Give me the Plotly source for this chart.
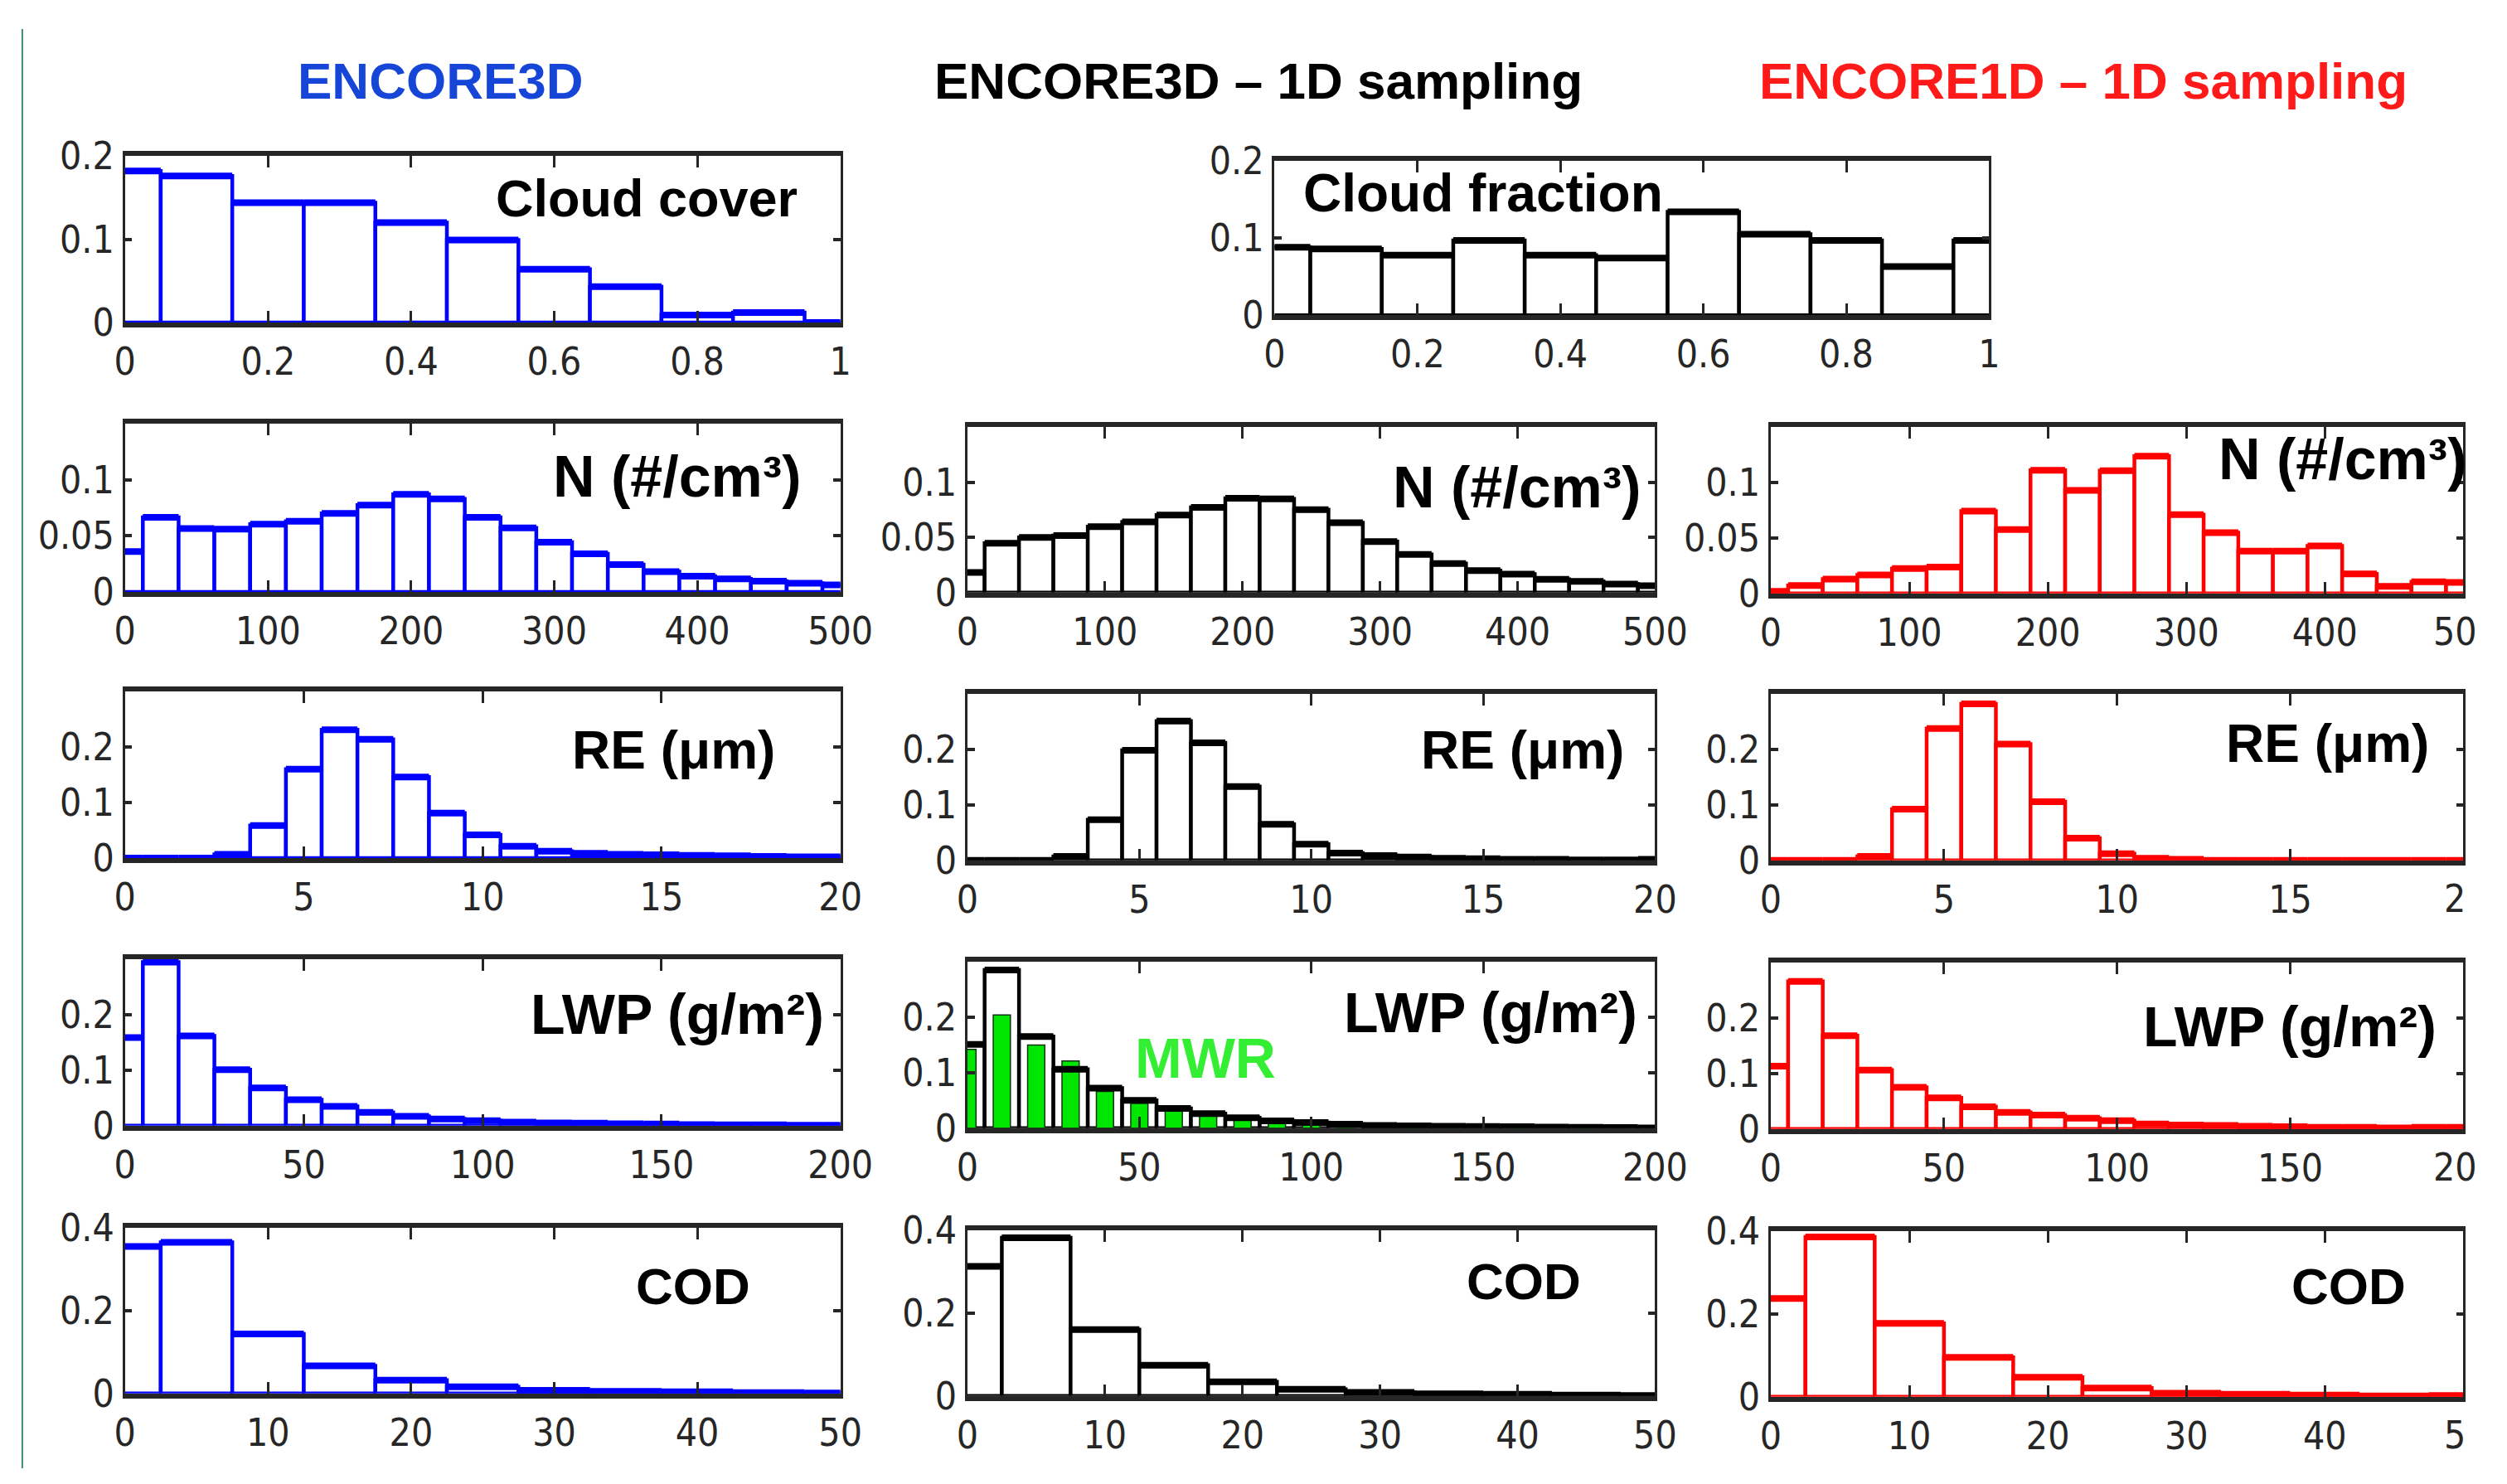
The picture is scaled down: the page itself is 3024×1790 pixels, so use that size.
import plotly.graph_objects as go

W, H = 3024, 1790
OFF = 8  # page body margin compensation (px)

# ---------------- bin centres ----------------
CF_BINS = [0.0, 0.1, 0.2, 0.3, 0.4, 0.5, 0.6, 0.7, 0.8, 0.9, 1.0]
N_BINS = [0, 25, 50, 75, 100, 125, 150, 175, 200, 225, 250, 275, 300, 325, 350,
          375, 400, 425, 450, 475, 500]
RE_BINS = [0, 1, 2, 3, 4, 5, 6, 7, 8, 9, 10, 11, 12, 13, 14, 15, 16, 17, 18, 19, 20]
LWP_BINS = [0, 10, 20, 30, 40, 50, 60, 70, 80, 90, 100, 110, 120, 130, 140, 150,
            160, 170, 180, 190, 200]
COD_BINS = [0, 5, 10, 15, 20, 25, 30, 35, 40, 45, 50]

# ---------------- frequencies ----------------
CC_3D = [0.182, 0.176, 0.144, 0.144, 0.120, 0.099, 0.064, 0.043, 0.009, 0.012, 0.0]
CF_3D1D = [0.088, 0.086, 0.078, 0.097, 0.078, 0.074, 0.134, 0.105, 0.097, 0.063, 0.097]

N_3D = [0.036, 0.0665, 0.0565, 0.056, 0.0605, 0.063, 0.070, 0.0775, 0.087, 0.083,
        0.0665, 0.057, 0.0443, 0.034, 0.0244, 0.018, 0.0139, 0.0115, 0.0096, 0.0077, 0.0062]
N_3D1D = [0.0182, 0.0447, 0.050, 0.0517, 0.0598, 0.0641, 0.0703, 0.0773, 0.0854, 0.0849,
          0.0751, 0.0634, 0.0462, 0.0347, 0.0263, 0.0199, 0.0167, 0.012, 0.0103, 0.0077, 0.0062]
N_1D1D = [0.002, 0.0071, 0.0129, 0.0167, 0.0224, 0.0238, 0.0743, 0.0576, 0.111, 0.0929,
          0.1107, 0.1238, 0.071, 0.0548, 0.0381, 0.0381, 0.0429, 0.0176, 0.0064, 0.0105, 0.010]

RE_3D = [0, 0, 0, 0.0066, 0.0585, 0.160, 0.231, 0.214, 0.146, 0.081, 0.0415, 0.021,
         0.012, 0.0085, 0.0066, 0.0057, 0.0047, 0.004, 0.003, 0.002, 0.002]
RE_3D1D = [0, 0, 0, 0.0072, 0.0732, 0.1986, 0.2512, 0.212, 0.133, 0.065, 0.0292, 0.013,
           0.0086, 0.006, 0.004, 0.003, 0.002, 0.002, 0.001, 0.001, 0.002]
RE_1D1D = [0, 0, 0, 0.0072, 0.0923, 0.2378, 0.282, 0.2096, 0.1057, 0.0402, 0.012, 0.004,
           0.002, 0, 0, 0, 0, 0, 0, 0, 0]

LWP_3D = [0.159, 0.295, 0.162, 0.101, 0.068, 0.047, 0.035, 0.024, 0.017, 0.012, 0.009,
          0.0065, 0.005, 0.0045, 0.0035, 0.003, 0.002, 0.0015, 0.0015, 0.001, 0.001]
LWP_3D1D = [0.151, 0.285, 0.165, 0.106, 0.072, 0.050, 0.0356, 0.026, 0.0188, 0.013, 0.010,
            0.0072, 0.005, 0.004, 0.0035, 0.003, 0.0025, 0.002, 0.0015, 0.001, 0.0005]
LWP_MWR = [0.142, 0.204, 0.150, 0.121, 0.066, 0.045, 0.036, 0.026, 0.018, 0.014, 0.0087,
           0.0077, 0.0063, 0.0053, 0.0053, 0.003, 0.0024, 0.001, 0.001, 0.0005, 0.0005]
LWP_1D1D = [0.113, 0.266, 0.168, 0.106, 0.075, 0.056, 0.040, 0.030, 0.025, 0.0195, 0.015,
            0.009, 0.007, 0.0065, 0.005, 0.004, 0.003, 0.003, 0.002, 0.003, 0.003]

COD_3D = [0.355, 0.365, 0.144, 0.0665, 0.032, 0.016, 0.0077, 0.005, 0.004, 0.002, 0.001]
COD_3D1D = [0.313, 0.382, 0.160, 0.074, 0.034, 0.016, 0.0083, 0.005, 0.004, 0.002, 0.001]
COD_1D1D = [0.237, 0.386, 0.177, 0.095, 0.047, 0.021, 0.0083, 0.006, 0.004, 0.002, 0.003]

# ---------------- tick labels ----------------
CF_XT = [0, 0.2, 0.4, 0.6, 0.8, 1]
CF_XL = ["0", "0.2", "0.4", "0.6", "0.8", "1"]
N_XT = [0, 100, 200, 300, 400, 500]
N_XL = ["0", "100", "200", "300", "400", "500"]
RE_XT = [0, 5, 10, 15, 20]
RE_XL = ["0", "5", "10", "15", "20"]
LWP_XT = [0, 50, 100, 150, 200]
LWP_XL = ["0", "50", "100", "150", "200"]
COD_XT = [0, 10, 20, 30, 40, 50]
COD_XL = ["0", "10", "20", "30", "40", "50"]
Y_CF = [0, 0.1, 0.2]
Y_CF_L = ["0", "0.1", "0.2"]
Y_N = [0, 0.05, 0.1]
Y_N_L = ["0", "0.05", "0.1"]
Y_RE = [0, 0.1, 0.2]
Y_RE_L = ["0", "0.1", "0.2"]
Y_COD = [0, 0.2, 0.4]
Y_COD_L = ["0", "0.2", "0.4"]
# last x labels of the right column, cut by the figure edge
EDGE_LABELS = ["50", "2", "20", "5"]

COL_TITLES = ["ENCORE3D", "ENCORE3D \u2013 1D sampling", "ENCORE1D \u2013 1D sampling"]

BLUE, BLACK, RED, GREEN = "#0000FF", "#000000", "#FF0000", "#00E600"
AXC = "#262626"
TICKFAM = "DejaVu Sans Condensed, DejaVu Sans, sans-serif"
TICKSIZE = 46
TICKFONT = dict(family=TICKFAM, size=TICKSIZE, color=AXC)
LABFONT = "Liberation Sans, Arial, sans-serif"


def px(x):
    return (x - OFF) / W


def py(y):
    return 1 - (y - OFF) / H


# panel layout: (x0, x1, y0, y1) in reference pixels, from top-left
C1, C2, C3 = (140, 1018), (1174, 2018), (2160, 3010)
panels = [
    dict(box=(C1[0], C1[1], 166, 373), xr=[0, 1], bw=0.1, bins=CF_BINS, vals=CC_3D, col=BLUE,
         xt=CF_XT, xl=CF_XL, yr=[0, 0.2], yt=Y_CF, yl=Y_CF_L,
         lab="Cloud cover", lx=967, ly=218, la="right", fs=63),
    dict(box=(1551, 2428, 172, 364), xr=[0, 1], bw=0.1, bins=CF_BINS, vals=CF_3D1D, col=BLACK,
         xt=CF_XT, xl=CF_XL, yr=[0, 0.2], yt=Y_CF, yl=Y_CF_L,
         lab="Cloud fraction", lx=1584, ly=212, la="left", fs=64),
    dict(box=(C1[0], C1[1], 499, 708), xr=[0, 500], bw=25, bins=N_BINS, vals=N_3D, col=BLUE,
         xt=N_XT, xl=N_XL, yr=[0, 0.15], yt=Y_N, yl=Y_N_L,
         lab="N (#/cm\u00b3)", lx=972, ly=565, la="right", fs=70),
    dict(box=(C2[0], C2[1], 503, 709), xr=[0, 500], bw=25, bins=N_BINS, vals=N_3D1D, col=BLACK,
         xt=N_XT, xl=N_XL, yr=[0, 0.15], yt=Y_N, yl=Y_N_L,
         lab="N (#/cm\u00b3)", lx=2002, ly=578, la="right", fs=70),
    dict(box=(C3[0], C3[1], 503, 710), xr=[0, 500], bw=25, bins=N_BINS, vals=N_1D1D, col=RED,
         xt=N_XT, xl=N_XL, yr=[0, 0.15], yt=Y_N, yl=Y_N_L,
         lab="N (#/cm\u00b3)", lx=3016, ly=543, la="right", fs=70, edge=(EDGE_LABELS[0], 39.5)),
    dict(box=(C1[0], C1[1], 832, 1039), xr=[0, 20], bw=1, bins=RE_BINS, vals=RE_3D, col=BLUE,
         xt=RE_XT, xl=RE_XL, yr=[0, 0.3], yt=Y_RE, yl=Y_RE_L,
         lab="RE (\u03bcm)", lx=940, ly=905, la="right", fs=64),
    dict(box=(C2[0], C2[1], 835, 1042), xr=[0, 20], bw=1, bins=RE_BINS, vals=RE_3D1D, col=BLACK,
         xt=RE_XT, xl=RE_XL, yr=[0, 0.3], yt=Y_RE, yl=Y_RE_L,
         lab="RE (\u03bcm)", lx=1982, ly=905, la="right", fs=64),
    dict(box=(C3[0], C3[1], 835, 1042), xr=[0, 20], bw=1, bins=RE_BINS, vals=RE_1D1D, col=RED,
         xt=RE_XT, xl=RE_XL, yr=[0, 0.3], yt=Y_RE, yl=Y_RE_L,
         lab="RE (\u03bcm)", lx=2970, ly=897, la="right", fs=64, edge=(EDGE_LABELS[1], 26.3)),
    dict(box=(C1[0], C1[1], 1165, 1372), xr=[0, 200], bw=10, bins=LWP_BINS, vals=LWP_3D, col=BLUE,
         xt=LWP_XT, xl=LWP_XL, yr=[0, 0.3], yt=Y_RE, yl=Y_RE_L,
         lab="LWP (g/m\u00b2)", lx=1000, ly=1233, la="right", fs=68),
    dict(box=(C2[0], C2[1], 1168, 1375), xr=[0, 200], bw=10, bins=LWP_BINS, vals=LWP_3D1D, col=BLACK,
         xt=LWP_XT, xl=LWP_XL, yr=[0, 0.3], yt=Y_RE, yl=Y_RE_L,
         lab="LWP (g/m\u00b2)", lx=1998, ly=1231, la="right", fs=68, extra=LWP_MWR),
    dict(box=(C3[0], C3[1], 1169, 1376), xr=[0, 200], bw=10, bins=LWP_BINS, vals=LWP_1D1D, col=RED,
         xt=LWP_XT, xl=LWP_XL, yr=[0, 0.3], yt=Y_RE, yl=Y_RE_L,
         lab="LWP (g/m\u00b2)", lx=2979, ly=1248, la="right", fs=68, edge=(EDGE_LABELS[2], 39.5)),
    dict(box=(C1[0], C1[1], 1499, 1705), xr=[0, 50], bw=5, bins=COD_BINS, vals=COD_3D, col=BLUE,
         xt=COD_XT, xl=COD_XL, yr=[0, 0.4], yt=Y_COD, yl=Y_COD_L,
         lab="COD", lx=910, ly=1572, la="right", fs=62),
    dict(box=(C2[0], C2[1], 1502, 1708), xr=[0, 50], bw=5, bins=COD_BINS, vals=COD_3D1D, col=BLACK,
         xt=COD_XT, xl=COD_XL, yr=[0, 0.4], yt=Y_COD, yl=Y_COD_L,
         lab="COD", lx=1929, ly=1566, la="right", fs=62),
    dict(box=(C3[0], C3[1], 1503, 1709), xr=[0, 50], bw=5, bins=COD_BINS, vals=COD_1D1D, col=RED,
         xt=COD_XT, xl=COD_XL, yr=[0, 0.4], yt=Y_COD, yl=Y_COD_L,
         lab="COD", lx=2941, ly=1572, la="right", fs=62, edge=(EDGE_LABELS[3], 26.3)),
]

fig = go.Figure()
annotations = []
layout_axes = {}

for i, p in enumerate(panels, start=1):
    sx = "" if i == 1 else str(i)
    xa, ya = "x" + sx, "y" + sx
    x0, x1, y0, y1 = p["box"]
    xl = list(p["xl"])
    if "edge" in p:
        # the last label would run past the right edge of the page: drawn cut below
        xl[-1] = ""
        txt, half = p["edge"]
        annotations.append(dict(text=txt, x=px(x1 - half), y=py(y1 + 48), xref="paper", yref="paper",
                                xanchor="left", yanchor="middle", showarrow=False,
                                font=TICKFONT))
    layout_axes["xaxis" + sx] = dict(
        domain=[px(x0), min(px(x1), 1.0)], anchor=ya, range=p["xr"], tickvals=p["xt"], ticktext=xl,
        ticks="inside", ticklen=14, tickwidth=2.5, tickcolor=AXC, showline=True, linewidth=6,
        linecolor=AXC, mirror="ticks", showgrid=False, zeroline=False, tickfont=TICKFONT,
        ticklabelstandoff=2, fixedrange=True)
    layout_axes["yaxis" + sx] = dict(
        domain=[py(y1), py(y0)], anchor=xa, range=p["yr"], tickvals=p["yt"], ticktext=p["yl"],
        ticks="inside", ticklen=9, tickwidth=4, tickcolor=AXC, showline=True, linewidth=2.5,
        linecolor=AXC, mirror="ticks", showgrid=False, zeroline=False, tickfont=TICKFONT,
        ticklabelstandoff=1, fixedrange=True)

    bw = p["bw"]
    fig.add_trace(go.Bar(x=p["bins"], y=p["vals"], width=bw, xaxis=xa, yaxis=ya,
                         marker=dict(color="white", line=dict(color=p["col"], width=4.5)),
                         showlegend=False, hoverinfo="skip"))
    sx_, sy_ = [], []
    for c, v in zip(p["bins"], p["vals"]):
        sx_ += [c - bw / 2, c + bw / 2, None]
        sy_ += [v, v, None]
    fig.add_trace(go.Scatter(x=sx_, y=sy_, mode="lines", xaxis=xa, yaxis=ya,
                             line=dict(color=p["col"], width=8), showlegend=False,
                             hoverinfo="skip"))
    if "extra" in p:
        fig.add_trace(go.Bar(x=p["bins"], y=p["extra"], width=bw / 2, xaxis=xa, yaxis=ya,
                             marker=dict(color=GREEN, line=dict(color="#103010", width=1.5)),
                             showlegend=False, hoverinfo="skip"))

    annotations.append(dict(text="<b>" + p["lab"] + "</b>", x=px(min(p["lx"], 3020)), y=py(p["ly"]),
                            xref="paper", yref="paper", xanchor=p["la"], yanchor="middle",
                            showarrow=False, font=dict(family=LABFONT, size=p["fs"], color="black")))

# MWR label
annotations.append(dict(text="<b>MWR</b>", x=px(1378), y=py(1288), xref="paper", yref="paper",
                        xanchor="left", yanchor="middle", showarrow=False,
                        font=dict(family=LABFONT, size=68, color="#33EE33")))

# column titles
for t, cx, colr in zip(COL_TITLES, [527, 1531, 2544], ["#1546D8", "#000000", "#FF1A1A"]):
    annotations.append(dict(text="<b>" + t + "</b>", x=px(cx), y=py(72), xref="paper",
                            yref="paper", xanchor="center", yanchor="middle", showarrow=False,
                            font=dict(family=LABFONT, size=62, color=colr)))

fig.update_layout(
    width=W, height=H, margin=dict(l=0, r=0, t=0, b=0),
    paper_bgcolor="white", plot_bgcolor="white", barmode="overlay",
    annotations=annotations,
    shapes=[dict(type="line", xref="paper", yref="paper", x0=px(14), x1=px(14), y0=0, y1=1,
                 line=dict(color="#3C8C78", width=2))],
    **layout_axes)

fig.write_html("out.html")
